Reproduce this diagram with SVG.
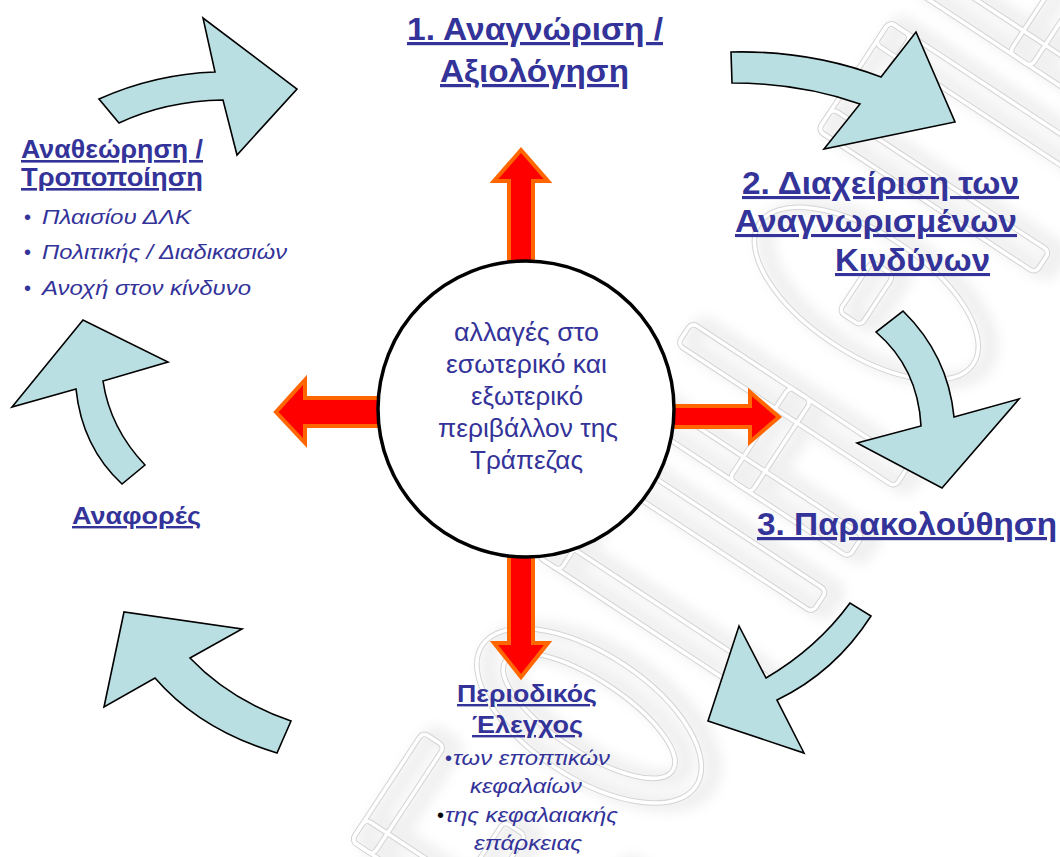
<svg xmlns="http://www.w3.org/2000/svg" width="1060" height="857" viewBox="0 0 1060 857">
  <defs>
    <style>
      .cycle { fill: #b9dfe3; stroke: #000; stroke-width: 1.6; stroke-linejoin: miter; }
      .push { fill: #ff0000; stroke: #ff6600; stroke-width: 4; stroke-linejoin: miter; stroke-miterlimit: 10; }
      .head { font-family: "Liberation Sans", Arial, sans-serif; font-weight: bold; fill: #333399; text-decoration: underline; }
      .item { font-family: "Liberation Sans", Arial, sans-serif; font-style: italic; fill: #333399; font-size: 21px; }
      .dot { font-family: "Liberation Sans", Arial, sans-serif; fill: #333399; font-size: 20px; }
      .core { font-family: "Liberation Sans", Arial, sans-serif; fill: #333399; font-size: 26px; }
      .wm-haze { fill: none; stroke: #f0f0f0; stroke-width: 18; }
      .wm-line { fill: none; stroke: #d4d4d4; stroke-width: 5.5; }
      .wm-gap { fill: none; stroke: #ffffff; stroke-width: 3.5; }
    </style>
    <filter id="soft" x="-20%" y="-20%" width="140%" height="140%">
      <feGaussianBlur stdDeviation="6"/>
    </filter>
    <!-- letter strokes of the background logo, in band coordinates -->
    <g id="logo">
      <rect x="-60" y="-130" width="26" height="260" rx="6"/>
      <rect x="-60" y="-130" width="130" height="26" rx="6"/>
      <rect x="-60" y="-13" width="100" height="26" rx="6"/>
      <rect x="-60" y="104" width="130" height="26" rx="6"/>
      <ellipse cx="175" cy="0" rx="62" ry="128"/>
      <ellipse cx="175" cy="0" rx="36" ry="100"/>
      <rect x="280" y="-130" width="26" height="260" rx="6"/>
      <rect x="384" y="-130" width="26" height="260" rx="6"/>
      <rect x="280" y="-130" width="130" height="26" rx="6"/>
      <rect x="450" y="-130" width="26" height="260" rx="6"/>
      <rect x="534" y="-130" width="26" height="260" rx="6"/>
      <rect x="450" y="-13" width="110" height="26" rx="6"/>
      <ellipse cx="680" cy="0" rx="60" ry="128"/>
      <rect x="650" y="-13" width="60" height="26" rx="6"/>
      <rect x="790" y="-130" width="26" height="260" rx="6"/>
      <rect x="894" y="-130" width="26" height="260" rx="6"/>
      <rect x="790" y="-130" width="130" height="26" rx="6"/>
      <rect x="960" y="-130" width="26" height="230" rx="6"/>
      <rect x="960" y="-13" width="100" height="26" rx="6"/>
    </g>
  </defs>

  <rect width="1060" height="857" fill="#ffffff"/>

  <!-- faint background logo -->
  <g id="watermark" transform="translate(493,862) rotate(-56.7)">
    <use href="#logo" class="wm-haze" filter="url(#soft)" transform="translate(6,10)"/>
    <use href="#logo" class="wm-line"/>
    <use href="#logo" class="wm-gap"/>
  </g>

  <!-- connectors: curved cycle arrows and the four push arrows -->
  <g id="connectors">
    <path class="cycle" d="M99,99 Q155,74 215,72 L203,18 L297,89 L237,155 L223,100 Q166,101 119,123 Z"/>
    <path class="cycle" d="M731,52 Q810,50 881,77 L916,32 L955,122 L824,149 L860,104 Q800,83 732,83 Z"/>
    <path class="cycle" d="M903,311 Q948,355 954,417 L1019,399 L942,488 L857,443 L921,426 Q918,368 876,332 Z"/>
    <path class="cycle" d="M871,616 Q835,672 777,700 L804,753 L708,721 L739,626 L766,678 Q817,648 850,603 Z"/>
    <path class="cycle" d="M291,721 Q230,700 190,658 L242,629 L124,612 L104,707 L155,678 Q200,730 277,753 Z"/>
    <path class="cycle" d="M145,465 Q110,428 103,381 L168,362 L83,320 L12,407 L76,389 Q82,447 122,484 Z"/>

    <path class="push" d="M509,280 L509,181 L494,181 L521,150 L548,181 L533,181 L533,280 Z"/>
    <path class="push" d="M509,540 L509,643 L494,643 L521,677 L548,643 L533,643 L533,540 Z"/>
    <path class="push" d="M395,398 L305,398 L305,380 L276,412 L305,443 L305,426 L395,426 Z"/>
    <path class="push" d="M660,406 L750,406 L750,392 L779,417 L750,442 L750,427 L660,427 Z"/>
  </g>

  <g id="center">
    <circle cx="526" cy="409" r="148" fill="#ffffff" stroke="#000000" stroke-width="3.5"/>
    <text class="core" x="454" y="341" textLength="145" lengthAdjust="spacingAndGlyphs">αλλαγές στο</text>
    <text class="core" x="446" y="373" textLength="161" lengthAdjust="spacingAndGlyphs">εσωτερικό και</text>
    <text class="core" x="471" y="405" textLength="112" lengthAdjust="spacingAndGlyphs">εξωτερικό</text>
    <text class="core" x="438" y="437" textLength="180" lengthAdjust="spacingAndGlyphs">περιβάλλον της</text>
    <text class="core" x="470" y="469" textLength="113" lengthAdjust="spacingAndGlyphs">Τράπεζας</text>
  </g>

  <g id="step-identify">
    <text class="head" font-size="32" x="407" y="40" textLength="256" lengthAdjust="spacingAndGlyphs">1. Αναγνώριση /</text>
    <text class="head" font-size="32" x="440" y="82" textLength="189" lengthAdjust="spacingAndGlyphs">Αξιολόγηση</text>
  </g>

  <g id="step-manage">
    <text class="head" font-size="31" x="742" y="194" textLength="277" lengthAdjust="spacingAndGlyphs">2. Διαχείριση των</text>
    <text class="head" font-size="31" x="735" y="232" textLength="282" lengthAdjust="spacingAndGlyphs">Αναγνωρισμένων</text>
    <text class="head" font-size="31" x="835" y="271" textLength="155" lengthAdjust="spacingAndGlyphs">Κινδύνων</text>
  </g>

  <g id="step-monitor">
    <text class="head" font-size="32" x="757" y="535" textLength="300" lengthAdjust="spacingAndGlyphs">3. Παρακολούθηση</text>
  </g>

  <g id="step-periodic">
    <text class="head" font-size="24" x="457" y="702" textLength="140" lengthAdjust="spacingAndGlyphs">Περιοδικός</text>
    <text class="head" font-size="24" x="472" y="733" textLength="111" lengthAdjust="spacingAndGlyphs">Έλεγχος</text>
    <text class="dot" x="445" y="765">•</text>
    <text class="item" x="453" y="765" textLength="157" lengthAdjust="spacingAndGlyphs">των εποπτικών</text>
    <text class="item" x="470" y="793" textLength="112" lengthAdjust="spacingAndGlyphs">κεφαλαίων</text>
    <text class="dot" x="437" y="822" style="fill:#000000">•</text>
    <text class="item" x="445" y="822" textLength="173" lengthAdjust="spacingAndGlyphs">της κεφαλαιακής</text>
    <text class="item" x="474" y="850" textLength="108" lengthAdjust="spacingAndGlyphs">επάρκειας</text>
  </g>

  <g id="step-reports">
    <text class="head" font-size="24" x="72" y="524" textLength="129" lengthAdjust="spacingAndGlyphs">Αναφορές</text>
  </g>

  <g id="step-review">
    <text class="head" font-size="26" x="21" y="158" textLength="182" lengthAdjust="spacingAndGlyphs">Αναθεώρηση /</text>
    <text class="head" font-size="26" x="21" y="186" textLength="182" lengthAdjust="spacingAndGlyphs">Τροποποίηση</text>
    <text class="dot" x="24" y="224">•</text>
    <text class="item" x="42" y="224" textLength="149" lengthAdjust="spacingAndGlyphs">Πλαισίου ΔΛΚ</text>
    <text class="dot" x="24" y="259">•</text>
    <text class="item" x="42" y="259" textLength="245" lengthAdjust="spacingAndGlyphs">Πολιτικής / Διαδικασιών</text>
    <text class="dot" x="24" y="295">•</text>
    <text class="item" x="42" y="295" textLength="209" lengthAdjust="spacingAndGlyphs">Ανοχή στον κίνδυνο</text>
  </g>
</svg>
